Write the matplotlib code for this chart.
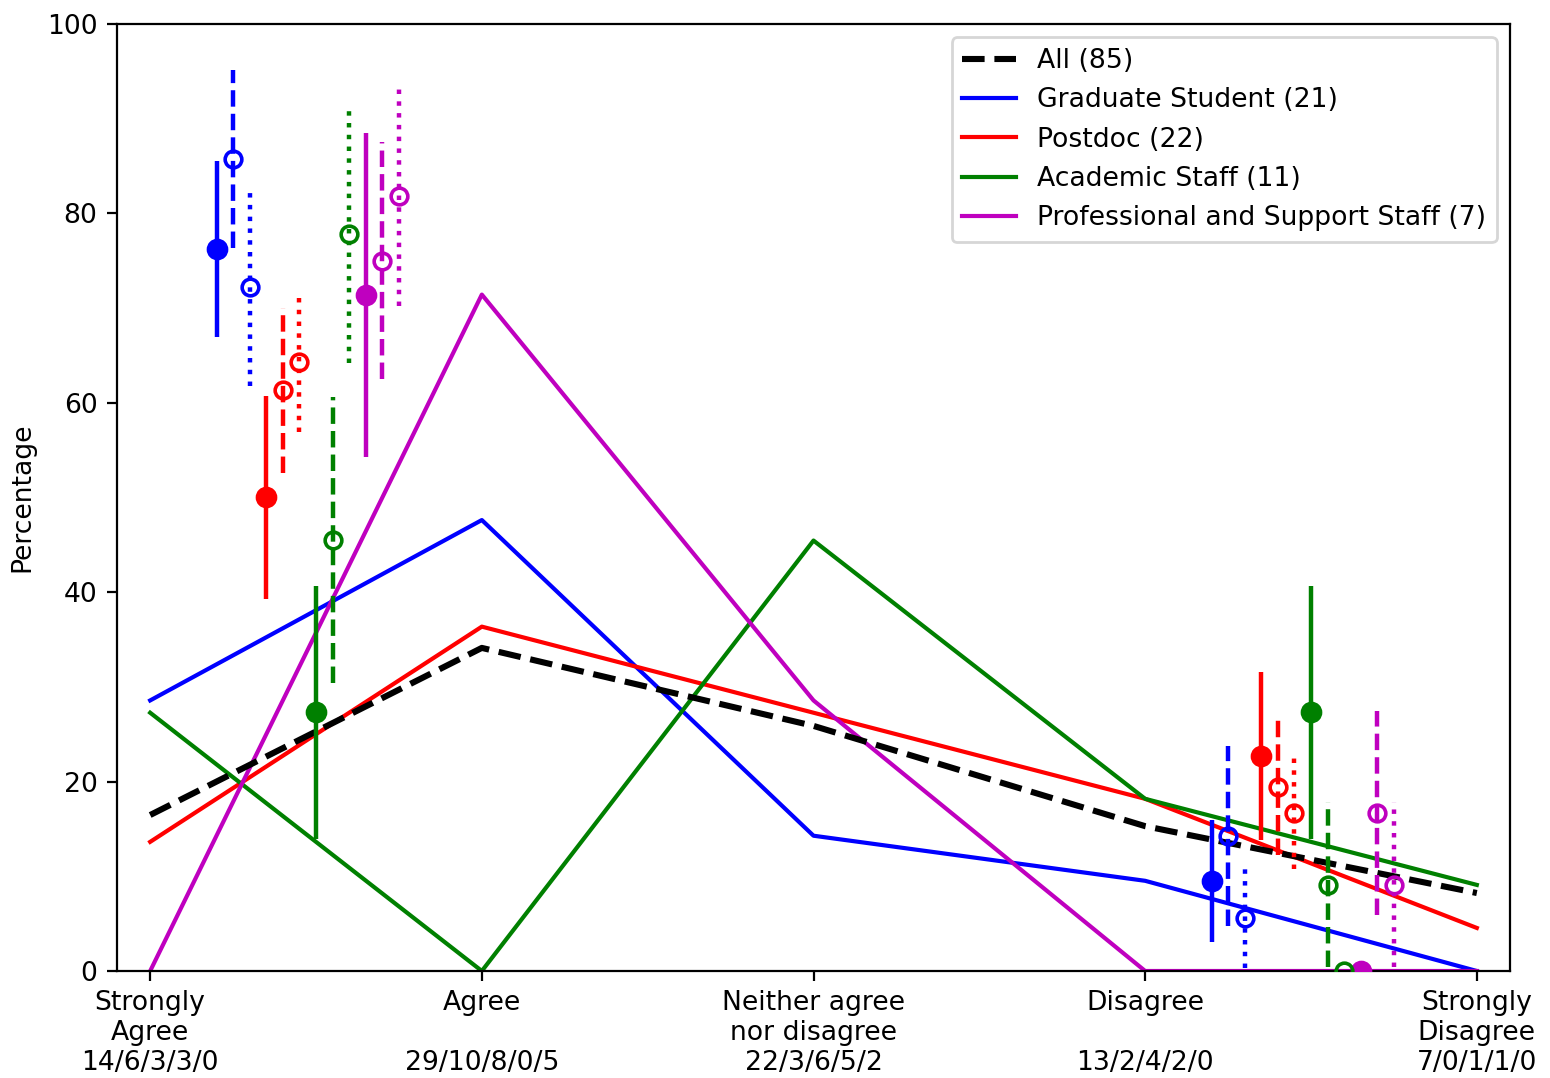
import numpy as np
import matplotlib
matplotlib.use("Agg")
import matplotlib.pyplot as plt

# answer categories and counts per group (All / Grad / Postdoc / Academic / Prof)
categories = ["Strongly\nAgree", "Agree", "Neither agree\nnor disagree", "Disagree", "Strongly\nDisagree"]
groups = ["All", "Graduate Student", "Postdoc", "Academic Staff", "Professional and Support Staff"]
totals = [85, 21, 22, 11, 7]
counts_all = [14, 29, 22, 13, 7]
counts_grad = [6, 10, 3, 2, 0]
counts_postdoc = [3, 8, 6, 4, 1]
counts_academic = [3, 0, 5, 2, 1]
counts_prof = [0, 5, 2, 0, 0]
colors = ["k", "b", "r", "g", "m"]

# combined agree / disagree summaries (this survey, plus two comparison surveys)
agree_now = [76.2, 50.0, 27.3, 71.4]
agree_now_err = [9.3, 10.7, 13.4, 17.1]
agree_dash = [85.7, 61.3, 45.5, 75.0]
agree_dash_err = [9.4, 8.7, 15.1, 12.5]
agree_dot = [72.2, 64.3, 77.8, 81.8]
agree_dot_err = [10.4, 7.4, 13.6, 11.6]

disagree_now = [9.5, 22.7, 27.3, 0.0]
disagree_now_err = [6.4, 8.9, 13.4, 0.0]
disagree_dash = [14.3, 19.4, 9.1, 16.7]
disagree_dash_err = [9.5, 7.1, 8.7, 10.8]
disagree_dot = [5.6, 16.7, 0.0, 9.1]
disagree_dot_err = [5.3, 5.9, 0.0, 8.7]

all_counts = [counts_all, counts_grad, counts_postdoc, counts_academic, counts_prof]
x = np.arange(len(categories))
fs = 9.6

fig = plt.figure(figsize=(7.75, 5.39), dpi=200)
ax = fig.add_axes([117 / 1550, 1 - 971 / 1078, (1510 - 117) / 1550, (971 - 24) / 1078])

for i, (name, cnt, tot, c) in enumerate(zip(groups, all_counts, totals, colors)):
    pct = np.array(cnt) / tot * 100
    if i == 0:
        ax.plot(x, pct, "--", color=c, lw=2.2, label="%s (%d)" % (name, tot), zorder=3)
    else:
        ax.plot(x, pct, "-", color=c, lw=1.5, label="%s (%d)" % (name, tot))


def draw_errs(base, vals, errs, style, filled):
    for j in range(4):
        xp = base + 0.2 + 0.15 * j + {"-": 0.0, "--": 0.05, ":": 0.1}[style]
        c = colors[j + 1]
        eb = ax.errorbar(xp, vals[j], yerr=errs[j], fmt="o", color=c, ms=6.5 if filled else 6,
                         mfc=c if filled else "none", mew=1.3, elinewidth=1.6, capsize=0,
                         zorder=4)
        eb[2][0].set_linestyle(style)


draw_errs(0, agree_now, agree_now_err, "-", True)
draw_errs(0, agree_dash, agree_dash_err, "--", False)
draw_errs(0, agree_dot, agree_dot_err, ":", False)
draw_errs(3, disagree_now, disagree_now_err, "-", True)
draw_errs(3, disagree_dash, disagree_dash_err, "--", False)
draw_errs(3, disagree_dot, disagree_dot_err, ":", False)

ax.set_xlim(-0.1, 4.1)
ax.set_ylim(0, 100)
ticklabels = []
for k, cat in enumerate(categories):
    nums = "/".join(str(c[k]) for c in all_counts)
    if "\n" in cat:
        ticklabels.append(cat + "\n" + nums)
    else:
        ticklabels.append(cat + "\n\n" + nums)
ax.set_xticks(x)
ax.set_xticklabels(ticklabels, fontsize=fs)
ax.tick_params(axis="y", labelsize=fs)
ax.set_ylabel("Percentage", fontsize=fs)
ax.legend(loc="upper right", fontsize=fs)

fig.savefig("out.png", dpi=200)
